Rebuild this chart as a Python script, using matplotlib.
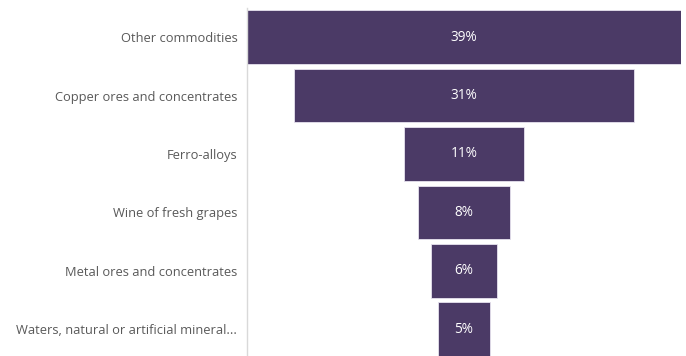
import matplotlib
matplotlib.use("Agg")
import matplotlib.pyplot as plt

categories = [
    "Other commodities",
    "Copper ores and concentrates",
    "Ferro-alloys",
    "Wine of fresh grapes",
    "Metal ores and concentrates",
    "Waters, natural or artificial mineral...",
]
shares = [39.0, 30.6, 10.8, 8.3, 5.9, 4.6]

bar_color = "#4b3a66"
label_color = "#595959"

plt.rcParams['font.family'] = ['Open Sans', 'DejaVu Sans']

fig = plt.figure(figsize=(6.86, 3.56), dpi=100)
ax = fig.add_axes([247 / 686, -2.4 / 356, 434 / 686, 350.4 / 356])

top = max(shares)
ypos = list(range(len(shares)))
lefts = [(top - v) / 2 for v in shares]
bars = ax.barh(ypos, shares, left=lefts, height=0.92, color=bar_color,
               edgecolor="#e6e2ee", linewidth=0.6)

for y, v, l in zip(ypos, shares, lefts):
    ax.text(l + v / 2, y, f"{v:.0f}%", ha="center", va="center",
            color="white", fontsize=9.8)

ax.set_xlim(0, top)
ax.set_ylim(len(shares) - 0.5, -0.5)
ax.set_yticks(ypos)
ax.set_yticklabels(categories, fontsize=9.3, color=label_color)
ax.tick_params(axis="y", length=0, pad=7)
ax.set_xticks([])
for s in ["top", "right", "bottom"]:
    ax.spines[s].set_visible(False)
ax.spines["left"].set_color("#d9d9d9")
ax.spines["left"].set_linewidth(1)

fig.savefig("out.png", dpi=100)
